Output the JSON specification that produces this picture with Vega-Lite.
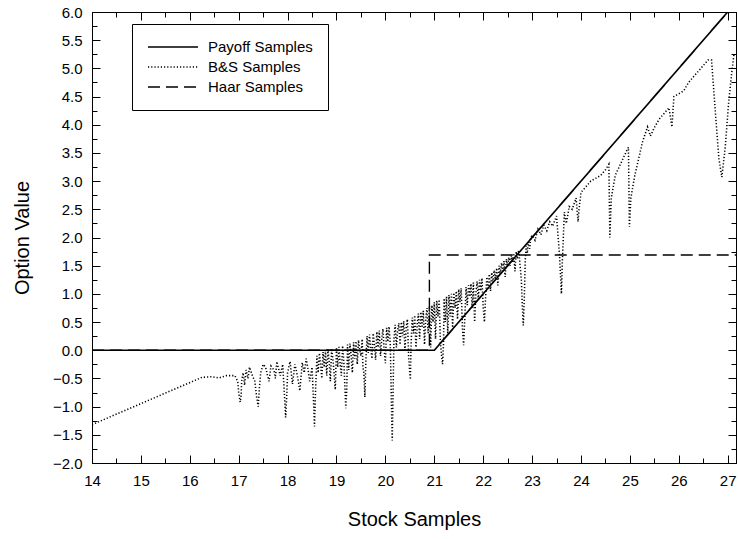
{
  "$schema": "https://vega.github.io/schema/vega-lite/v6.json",
  "width": 644,
  "height": 451,
  "autosize": {"type": "none"},
  "padding": {"left": 92, "top": 12, "right": 2, "bottom": 76},
  "background": "white",
  "config": {
    "font": "Liberation Sans",
    "view": {"stroke": "black", "strokeWidth": 1},
    "axis": {"grid": false, "domainColor": "black", "tickColor": "black", "labelColor": "black", "titleColor": "black", "labelFont": "Liberation Sans", "titleFont": "Liberation Sans", "titleFontWeight": "normal", "labelFlush": false, "labelOverlap": false, "tickWidth": 1, "domainWidth": 1}
  },
  "data": {"values": [
    {"series": "Payoff Samples", "x": 14, "y": 0},
    {"series": "Payoff Samples", "x": 21, "y": 0},
    {"series": "Payoff Samples", "x": 27, "y": 6},
    {"series": "\u00a0Haar Samples", "x": 14, "y": 0},
    {"series": "\u00a0Haar Samples", "x": 20.9, "y": 0},
    {"series": "\u00a0Haar Samples", "x": 20.9, "y": 1.69},
    {"series": "\u00a0Haar Samples", "x": 27.17, "y": 1.69},
    {"series": "B&S Samples", "x": 14.0, "y": -1.32},
    {"series": "B&S Samples", "x": 16.25, "y": -0.48},
    {"series": "B&S Samples", "x": 16.45, "y": -0.47},
    {"series": "B&S Samples", "x": 16.6, "y": -0.49},
    {"series": "B&S Samples", "x": 16.75, "y": -0.45},
    {"series": "B&S Samples", "x": 16.92, "y": -0.45},
    {"series": "B&S Samples", "x": 16.98, "y": -0.55},
    {"series": "B&S Samples", "x": 17.0, "y": -0.75},
    {"series": "B&S Samples", "x": 17.03, "y": -0.92},
    {"series": "B&S Samples", "x": 17.05, "y": -0.8},
    {"series": "B&S Samples", "x": 17.06, "y": -0.55},
    {"series": "B&S Samples", "x": 17.09, "y": -0.4},
    {"series": "B&S Samples", "x": 17.12, "y": -0.62},
    {"series": "B&S Samples", "x": 17.15, "y": -0.35},
    {"series": "B&S Samples", "x": 17.19, "y": -0.5},
    {"series": "B&S Samples", "x": 17.22, "y": -0.3},
    {"series": "B&S Samples", "x": 17.28, "y": -0.45},
    {"series": "B&S Samples", "x": 17.33, "y": -0.55},
    {"series": "B&S Samples", "x": 17.37, "y": -0.85},
    {"series": "B&S Samples", "x": 17.4, "y": -1.0},
    {"series": "B&S Samples", "x": 17.42, "y": -0.7},
    {"series": "B&S Samples", "x": 17.45, "y": -0.4},
    {"series": "B&S Samples", "x": 17.5, "y": -0.25},
    {"series": "B&S Samples", "x": 17.55, "y": -0.3},
    {"series": "B&S Samples", "x": 17.59, "y": -0.45},
    {"series": "B&S Samples", "x": 17.62, "y": -0.55},
    {"series": "B&S Samples", "x": 17.66, "y": -0.28},
    {"series": "B&S Samples", "x": 17.72, "y": -0.35},
    {"series": "B&S Samples", "x": 17.75, "y": -0.5},
    {"series": "B&S Samples", "x": 17.78, "y": -0.2},
    {"series": "B&S Samples", "x": 17.85, "y": -0.45},
    {"series": "B&S Samples", "x": 17.9, "y": -0.25},
    {"series": "B&S Samples", "x": 17.93, "y": -0.7},
    {"series": "B&S Samples", "x": 17.96, "y": -1.19},
    {"series": "B&S Samples", "x": 17.98, "y": -0.85},
    {"series": "B&S Samples", "x": 18.0, "y": -0.4},
    {"series": "B&S Samples", "x": 18.05, "y": -0.2},
    {"series": "B&S Samples", "x": 18.1, "y": -0.6},
    {"series": "B&S Samples", "x": 18.15, "y": -0.25},
    {"series": "B&S Samples", "x": 18.2, "y": -0.45},
    {"series": "B&S Samples", "x": 18.25, "y": -0.72},
    {"series": "B&S Samples", "x": 18.3, "y": -0.22},
    {"series": "B&S Samples", "x": 18.34, "y": -0.4},
    {"series": "B&S Samples", "x": 18.38, "y": -0.15},
    {"series": "B&S Samples", "x": 18.42, "y": -0.35},
    {"series": "B&S Samples", "x": 18.45, "y": -0.55},
    {"series": "B&S Samples", "x": 18.5, "y": -0.3},
    {"series": "B&S Samples", "x": 18.53, "y": -0.9},
    {"series": "B&S Samples", "x": 18.55, "y": -1.35},
    {"series": "B&S Samples", "x": 18.57, "y": -0.75},
    {"series": "B&S Samples", "x": 18.6, "y": -0.1},
    {"series": "B&S Samples", "x": 18.625, "y": -0.4},
    {"series": "B&S Samples", "x": 18.65, "y": -0.05},
    {"series": "B&S Samples", "x": 18.675, "y": -0.25},
    {"series": "B&S Samples", "x": 18.7, "y": -0.5},
    {"series": "B&S Samples", "x": 18.725, "y": -0.03},
    {"series": "B&S Samples", "x": 18.75, "y": -0.3},
    {"series": "B&S Samples", "x": 18.775, "y": 0.0},
    {"series": "B&S Samples", "x": 18.8, "y": -0.45},
    {"series": "B&S Samples", "x": 18.825, "y": 0.02},
    {"series": "B&S Samples", "x": 18.85, "y": -0.2},
    {"series": "B&S Samples", "x": 18.875, "y": -0.55},
    {"series": "B&S Samples", "x": 18.9, "y": 0.03},
    {"series": "B&S Samples", "x": 18.925, "y": -0.15},
    {"series": "B&S Samples", "x": 18.95, "y": -0.4},
    {"series": "B&S Samples", "x": 18.975, "y": -0.7},
    {"series": "B&S Samples", "x": 19.0, "y": 0.05},
    {"series": "B&S Samples", "x": 19.025, "y": -0.3},
    {"series": "B&S Samples", "x": 19.05, "y": 0.06},
    {"series": "B&S Samples", "x": 19.075, "y": -0.25},
    {"series": "B&S Samples", "x": 19.1, "y": -0.45},
    {"series": "B&S Samples", "x": 19.125, "y": 0.08},
    {"series": "B&S Samples", "x": 19.15, "y": -0.2},
    {"series": "B&S Samples", "x": 19.17, "y": -0.6},
    {"series": "B&S Samples", "x": 19.19, "y": -1.03},
    {"series": "B&S Samples", "x": 19.21, "y": -0.7},
    {"series": "B&S Samples", "x": 19.225, "y": 0.1},
    {"series": "B&S Samples", "x": 19.25, "y": -0.35},
    {"series": "B&S Samples", "x": 19.275, "y": 0.12},
    {"series": "B&S Samples", "x": 19.3, "y": -0.1},
    {"series": "B&S Samples", "x": 19.325, "y": -0.4},
    {"series": "B&S Samples", "x": 19.35, "y": 0.14},
    {"series": "B&S Samples", "x": 19.375, "y": -0.15},
    {"series": "B&S Samples", "x": 19.4, "y": 0.16},
    {"series": "B&S Samples", "x": 19.425, "y": -0.25},
    {"series": "B&S Samples", "x": 19.45, "y": 0.18},
    {"series": "B&S Samples", "x": 19.475, "y": 0.0},
    {"series": "B&S Samples", "x": 19.5, "y": -0.1},
    {"series": "B&S Samples", "x": 19.525, "y": 0.2},
    {"series": "B&S Samples", "x": 19.54, "y": -0.3},
    {"series": "B&S Samples", "x": 19.56, "y": -0.4},
    {"series": "B&S Samples", "x": 19.58, "y": -0.83},
    {"series": "B&S Samples", "x": 19.6, "y": -0.2},
    {"series": "B&S Samples", "x": 19.625, "y": 0.25},
    {"series": "B&S Samples", "x": 19.65, "y": -0.05},
    {"series": "B&S Samples", "x": 19.675, "y": 0.28},
    {"series": "B&S Samples", "x": 19.7, "y": 0.05},
    {"series": "B&S Samples", "x": 19.725, "y": -0.15},
    {"series": "B&S Samples", "x": 19.75, "y": 0.3},
    {"series": "B&S Samples", "x": 19.775, "y": 0.1},
    {"series": "B&S Samples", "x": 19.8, "y": -0.17},
    {"series": "B&S Samples", "x": 19.825, "y": 0.33},
    {"series": "B&S Samples", "x": 19.85, "y": 0.05},
    {"series": "B&S Samples", "x": 19.875, "y": 0.35},
    {"series": "B&S Samples", "x": 19.9, "y": -0.1},
    {"series": "B&S Samples", "x": 19.925, "y": 0.2},
    {"series": "B&S Samples", "x": 19.95, "y": 0.38},
    {"series": "B&S Samples", "x": 19.975, "y": 0.0},
    {"series": "B&S Samples", "x": 20.0, "y": -0.23},
    {"series": "B&S Samples", "x": 20.025, "y": 0.4},
    {"series": "B&S Samples", "x": 20.05, "y": 0.15},
    {"series": "B&S Samples", "x": 20.075, "y": 0.42},
    {"series": "B&S Samples", "x": 20.1, "y": 0.1},
    {"series": "B&S Samples", "x": 20.12, "y": -0.8},
    {"series": "B&S Samples", "x": 20.14, "y": -1.6},
    {"series": "B&S Samples", "x": 20.16, "y": -0.6},
    {"series": "B&S Samples", "x": 20.175, "y": 0.2},
    {"series": "B&S Samples", "x": 20.2, "y": 0.45},
    {"series": "B&S Samples", "x": 20.225, "y": 0.05},
    {"series": "B&S Samples", "x": 20.25, "y": 0.35},
    {"series": "B&S Samples", "x": 20.275, "y": 0.48},
    {"series": "B&S Samples", "x": 20.3, "y": 0.1},
    {"series": "B&S Samples", "x": 20.325, "y": 0.5},
    {"series": "B&S Samples", "x": 20.35, "y": 0.25},
    {"series": "B&S Samples", "x": 20.375, "y": 0.52},
    {"series": "B&S Samples", "x": 20.4, "y": 0.0},
    {"series": "B&S Samples", "x": 20.425, "y": 0.4},
    {"series": "B&S Samples", "x": 20.45, "y": 0.55},
    {"series": "B&S Samples", "x": 20.475, "y": -0.1},
    {"series": "B&S Samples", "x": 20.49, "y": -0.3},
    {"series": "B&S Samples", "x": 20.51, "y": -0.52},
    {"series": "B&S Samples", "x": 20.525, "y": 0.1},
    {"series": "B&S Samples", "x": 20.55, "y": 0.58},
    {"series": "B&S Samples", "x": 20.575, "y": 0.3},
    {"series": "B&S Samples", "x": 20.6, "y": 0.62},
    {"series": "B&S Samples", "x": 20.625, "y": 0.05},
    {"series": "B&S Samples", "x": 20.65, "y": 0.45},
    {"series": "B&S Samples", "x": 20.675, "y": 0.65},
    {"series": "B&S Samples", "x": 20.7, "y": 0.2},
    {"series": "B&S Samples", "x": 20.725, "y": 0.68},
    {"series": "B&S Samples", "x": 20.75, "y": 0.4},
    {"series": "B&S Samples", "x": 20.775, "y": 0.7},
    {"series": "B&S Samples", "x": 20.8, "y": 0.1},
    {"series": "B&S Samples", "x": 20.825, "y": 0.55},
    {"series": "B&S Samples", "x": 20.85, "y": 0.75},
    {"series": "B&S Samples", "x": 20.875, "y": 0.3},
    {"series": "B&S Samples", "x": 20.9, "y": 0.78},
    {"series": "B&S Samples", "x": 20.925, "y": 0.05},
    {"series": "B&S Samples", "x": 20.95, "y": 0.8},
    {"series": "B&S Samples", "x": 20.975, "y": 0.5},
    {"series": "B&S Samples", "x": 21.0, "y": 0.85},
    {"series": "B&S Samples", "x": 21.025, "y": 0.2},
    {"series": "B&S Samples", "x": 21.05, "y": 0.88},
    {"series": "B&S Samples", "x": 21.075, "y": 0.6},
    {"series": "B&S Samples", "x": 21.1, "y": 0.9},
    {"series": "B&S Samples", "x": 21.125, "y": 0.15},
    {"series": "B&S Samples", "x": 21.15, "y": -0.1},
    {"series": "B&S Samples", "x": 21.17, "y": -0.25},
    {"series": "B&S Samples", "x": 21.19, "y": 0.15},
    {"series": "B&S Samples", "x": 21.2, "y": 0.92},
    {"series": "B&S Samples", "x": 21.225, "y": 0.5},
    {"series": "B&S Samples", "x": 21.25, "y": 0.95},
    {"series": "B&S Samples", "x": 21.275, "y": 0.3},
    {"series": "B&S Samples", "x": 21.3, "y": 0.98},
    {"series": "B&S Samples", "x": 21.325, "y": 0.6},
    {"series": "B&S Samples", "x": 21.35, "y": 1.0},
    {"series": "B&S Samples", "x": 21.375, "y": 0.4},
    {"series": "B&S Samples", "x": 21.4, "y": 1.02},
    {"series": "B&S Samples", "x": 21.425, "y": 0.75},
    {"series": "B&S Samples", "x": 21.45, "y": 1.05},
    {"series": "B&S Samples", "x": 21.475, "y": 0.55},
    {"series": "B&S Samples", "x": 21.5, "y": 1.08},
    {"series": "B&S Samples", "x": 21.525, "y": 0.85},
    {"series": "B&S Samples", "x": 21.55, "y": 1.1},
    {"series": "B&S Samples", "x": 21.575, "y": 0.4},
    {"series": "B&S Samples", "x": 21.6, "y": 0.09},
    {"series": "B&S Samples", "x": 21.625, "y": 0.6},
    {"series": "B&S Samples", "x": 21.65, "y": 1.12},
    {"series": "B&S Samples", "x": 21.675, "y": 0.8},
    {"series": "B&S Samples", "x": 21.7, "y": 1.15},
    {"series": "B&S Samples", "x": 21.725, "y": 0.95},
    {"series": "B&S Samples", "x": 21.75, "y": 1.18},
    {"series": "B&S Samples", "x": 21.775, "y": 0.75},
    {"series": "B&S Samples", "x": 21.8, "y": 1.2},
    {"series": "B&S Samples", "x": 21.825, "y": 0.5},
    {"series": "B&S Samples", "x": 21.85, "y": 1.0},
    {"series": "B&S Samples", "x": 21.875, "y": 1.22},
    {"series": "B&S Samples", "x": 21.9, "y": 0.9},
    {"series": "B&S Samples", "x": 21.925, "y": 1.25},
    {"series": "B&S Samples", "x": 21.95, "y": 1.05},
    {"series": "B&S Samples", "x": 21.975, "y": 1.28},
    {"series": "B&S Samples", "x": 22.0, "y": 0.77},
    {"series": "B&S Samples", "x": 22.025, "y": 0.5},
    {"series": "B&S Samples", "x": 22.05, "y": 0.95},
    {"series": "B&S Samples", "x": 22.075, "y": 1.3},
    {"series": "B&S Samples", "x": 22.1, "y": 1.1},
    {"series": "B&S Samples", "x": 22.125, "y": 1.35},
    {"series": "B&S Samples", "x": 22.15, "y": 1.05},
    {"series": "B&S Samples", "x": 22.175, "y": 1.38},
    {"series": "B&S Samples", "x": 22.2, "y": 1.2},
    {"series": "B&S Samples", "x": 22.225, "y": 1.42},
    {"series": "B&S Samples", "x": 22.25, "y": 1.25},
    {"series": "B&S Samples", "x": 22.275, "y": 1.46},
    {"series": "B&S Samples", "x": 22.3, "y": 1.15},
    {"series": "B&S Samples", "x": 22.325, "y": 1.5},
    {"series": "B&S Samples", "x": 22.35, "y": 1.35},
    {"series": "B&S Samples", "x": 22.375, "y": 1.55},
    {"series": "B&S Samples", "x": 22.4, "y": 1.4},
    {"series": "B&S Samples", "x": 22.425, "y": 1.58},
    {"series": "B&S Samples", "x": 22.45, "y": 1.3},
    {"series": "B&S Samples", "x": 22.475, "y": 1.62},
    {"series": "B&S Samples", "x": 22.5, "y": 1.48},
    {"series": "B&S Samples", "x": 22.525, "y": 1.65},
    {"series": "B&S Samples", "x": 22.55, "y": 1.5},
    {"series": "B&S Samples", "x": 22.575, "y": 1.68},
    {"series": "B&S Samples", "x": 22.6, "y": 1.55},
    {"series": "B&S Samples", "x": 22.625, "y": 1.72},
    {"series": "B&S Samples", "x": 22.65, "y": 1.4},
    {"series": "B&S Samples", "x": 22.675, "y": 1.75},
    {"series": "B&S Samples", "x": 22.7, "y": 1.62},
    {"series": "B&S Samples", "x": 22.725, "y": 1.78},
    {"series": "B&S Samples", "x": 22.75, "y": 1.55},
    {"series": "B&S Samples", "x": 22.78, "y": 1.25},
    {"series": "B&S Samples", "x": 22.8, "y": 0.8},
    {"series": "B&S Samples", "x": 22.82, "y": 0.44},
    {"series": "B&S Samples", "x": 22.84, "y": 0.9},
    {"series": "B&S Samples", "x": 22.86, "y": 1.6},
    {"series": "B&S Samples", "x": 22.88, "y": 1.85},
    {"series": "B&S Samples", "x": 22.9, "y": 1.72},
    {"series": "B&S Samples", "x": 22.925, "y": 1.92},
    {"series": "B&S Samples", "x": 22.95, "y": 1.8},
    {"series": "B&S Samples", "x": 22.975, "y": 2.0},
    {"series": "B&S Samples", "x": 23.0, "y": 2.04},
    {"series": "B&S Samples", "x": 23.06, "y": 1.95},
    {"series": "B&S Samples", "x": 23.12, "y": 2.15},
    {"series": "B&S Samples", "x": 23.18, "y": 2.05},
    {"series": "B&S Samples", "x": 23.24, "y": 2.22},
    {"series": "B&S Samples", "x": 23.3, "y": 2.12},
    {"series": "B&S Samples", "x": 23.36, "y": 2.28},
    {"series": "B&S Samples", "x": 23.42, "y": 2.2},
    {"series": "B&S Samples", "x": 23.5, "y": 2.38},
    {"series": "B&S Samples", "x": 23.56, "y": 1.7},
    {"series": "B&S Samples", "x": 23.6, "y": 1.0},
    {"series": "B&S Samples", "x": 23.62, "y": 1.6},
    {"series": "B&S Samples", "x": 23.66, "y": 2.45},
    {"series": "B&S Samples", "x": 23.7, "y": 2.25},
    {"series": "B&S Samples", "x": 23.76, "y": 2.55},
    {"series": "B&S Samples", "x": 23.82, "y": 2.5},
    {"series": "B&S Samples", "x": 23.9, "y": 2.7},
    {"series": "B&S Samples", "x": 23.94, "y": 2.28},
    {"series": "B&S Samples", "x": 23.96, "y": 2.5},
    {"series": "B&S Samples", "x": 24.0, "y": 2.8},
    {"series": "B&S Samples", "x": 24.1, "y": 2.9},
    {"series": "B&S Samples", "x": 24.2, "y": 3.0},
    {"series": "B&S Samples", "x": 24.3, "y": 3.05},
    {"series": "B&S Samples", "x": 24.4, "y": 3.1},
    {"series": "B&S Samples", "x": 24.5, "y": 3.2},
    {"series": "B&S Samples", "x": 24.57, "y": 3.3},
    {"series": "B&S Samples", "x": 24.59, "y": 2.0},
    {"series": "B&S Samples", "x": 24.62, "y": 2.7},
    {"series": "B&S Samples", "x": 24.7, "y": 3.1},
    {"series": "B&S Samples", "x": 24.78, "y": 3.25},
    {"series": "B&S Samples", "x": 24.86, "y": 3.4},
    {"series": "B&S Samples", "x": 24.94, "y": 3.55},
    {"series": "B&S Samples", "x": 24.97, "y": 3.6},
    {"series": "B&S Samples", "x": 24.99, "y": 2.19},
    {"series": "B&S Samples", "x": 25.02, "y": 2.7},
    {"series": "B&S Samples", "x": 25.1, "y": 3.1},
    {"series": "B&S Samples", "x": 25.18, "y": 3.4},
    {"series": "B&S Samples", "x": 25.26, "y": 3.7},
    {"series": "B&S Samples", "x": 25.36, "y": 3.96},
    {"series": "B&S Samples", "x": 25.42, "y": 3.8},
    {"series": "B&S Samples", "x": 25.5, "y": 3.95},
    {"series": "B&S Samples", "x": 25.6, "y": 4.1},
    {"series": "B&S Samples", "x": 25.7, "y": 4.2},
    {"series": "B&S Samples", "x": 25.8, "y": 4.3},
    {"series": "B&S Samples", "x": 25.86, "y": 3.96},
    {"series": "B&S Samples", "x": 25.9, "y": 4.5},
    {"series": "B&S Samples", "x": 26.0, "y": 4.55},
    {"series": "B&S Samples", "x": 26.1, "y": 4.6},
    {"series": "B&S Samples", "x": 26.2, "y": 4.75},
    {"series": "B&S Samples", "x": 26.3, "y": 4.85},
    {"series": "B&S Samples", "x": 26.4, "y": 4.95},
    {"series": "B&S Samples", "x": 26.5, "y": 5.05},
    {"series": "B&S Samples", "x": 26.6, "y": 5.15},
    {"series": "B&S Samples", "x": 26.67, "y": 5.15},
    {"series": "B&S Samples", "x": 26.75, "y": 4.2},
    {"series": "B&S Samples", "x": 26.82, "y": 3.4},
    {"series": "B&S Samples", "x": 26.88, "y": 3.07},
    {"series": "B&S Samples", "x": 26.95, "y": 3.6},
    {"series": "B&S Samples", "x": 27.02, "y": 4.4},
    {"series": "B&S Samples", "x": 27.08, "y": 4.9},
    {"series": "B&S Samples", "x": 27.13, "y": 5.26}
  ]},
  "layer": [
    {
      "mark": {"type": "line", "color": "black", "clip": true},
      "encoding": {
        "x": {"field": "x", "type": "quantitative",
          "scale": {"domain": [14, 27.17], "nice": false, "zero": false},
          "axis": {"orient": "bottom", "title": "Stock Samples", "titleFontSize": 20, "titlePadding": 18,
            "values": [14,14.5,15,15.5,16,16.5,17,17.5,18,18.5,19,19.5,20,20.5,21,21.5,22,22.5,23,23.5,24,24.5,25,25.5,26,26.5,27],
            "labelExpr": "datum.value % 1 === 0 ? format(datum.value, 'd') : ''",
            "labelFontSize": 15, "labelPadding": 18,
            "tickSize": {"condition": {"test": "datum.value % 1 === 0", "value": -8}, "value": -5}}},
        "y": {"field": "y", "type": "quantitative",
          "scale": {"domain": [-2, 6], "nice": false, "zero": false},
          "axis": {"orient": "left", "title": "Option Value", "titleFontSize": 20, "titlePadding": 20,
            "values": [-2,-1.75,-1.5,-1.25,-1,-0.75,-0.5,-0.25,0,0.25,0.5,0.75,1,1.25,1.5,1.75,2,2.25,2.5,2.75,3,3.25,3.5,3.75,4,4.25,4.5,4.75,5,5.25,5.5,5.75,6],
            "labelExpr": "datum.value % 0.5 === 0 ? format(datum.value, '.1f') : ''",
            "labelFontSize": 15, "labelPadding": 18,
            "tickSize": {"condition": {"test": "datum.value % 0.5 === 0", "value": -8}, "value": -5}}},
        "strokeDash": {"field": "series", "type": "nominal",
          "scale": {"domain": ["Payoff Samples", "B&S Samples", "\u00a0Haar Samples"], "range": [[1, 0], [1.2, 2], [12, 6]]},
          "legend": {"title": null, "orient": "none", "legendX": 40, "legendY": 12, "strokeColor": "black", "fillColor": "white",
            "padding": 15, "symbolType": "M-3.5714,0H3.5714", "symbolSize": 196, "symbolOffset": 18, "symbolStrokeColor": "black",
            "labelFontSize": 15, "labelFont": "Liberation Sans", "labelColor": "black", "labelOffset": 27, "rowPadding": 4, "cornerRadius": 0}},
        "strokeWidth": {"field": "series", "type": "nominal",
          "scale": {"domain": ["Payoff Samples", "B&S Samples", "\u00a0Haar Samples"], "range": [1.7, 1.4, 2.2]},
          "legend": {"title": null, "orient": "none", "legendX": 40, "legendY": 12, "strokeColor": "black", "fillColor": "white",
            "padding": 15, "symbolType": "M-3.5714,0H3.5714", "symbolSize": 196, "symbolOffset": 18, "symbolStrokeColor": "black",
            "labelFontSize": 15, "labelFont": "Liberation Sans", "labelColor": "black", "labelOffset": 27, "rowPadding": 4, "cornerRadius": 0}},
        "order": {"value": null}
      }
    },
    {
      "mark": {"type": "line", "opacity": 0},
      "encoding": {
        "x": {"field": "x", "type": "quantitative",
          "axis": {"orient": "top", "title": null, "labels": false,
            "values": [14,14.5,15,15.5,16,16.5,17,17.5,18,18.5,19,19.5,20,20.5,21,21.5,22,22.5,23,23.5,24,24.5,25,25.5,26,26.5,27],
            "tickSize": {"condition": {"test": "datum.value % 1 === 0", "value": -8}, "value": -5}}},
        "y": {"field": "y", "type": "quantitative",
          "axis": {"orient": "right", "title": null, "labels": false,
            "values": [-2,-1.75,-1.5,-1.25,-1,-0.75,-0.5,-0.25,0,0.25,0.5,0.75,1,1.25,1.5,1.75,2,2.25,2.5,2.75,3,3.25,3.5,3.75,4,4.25,4.5,4.75,5,5.25,5.5,5.75,6],
            "tickSize": {"condition": {"test": "datum.value % 0.5 === 0", "value": -8}, "value": -5}}},
        "detail": {"field": "series"}
      }
    }
  ],
  "resolve": {"axis": {"x": "independent", "y": "independent"}}
}
